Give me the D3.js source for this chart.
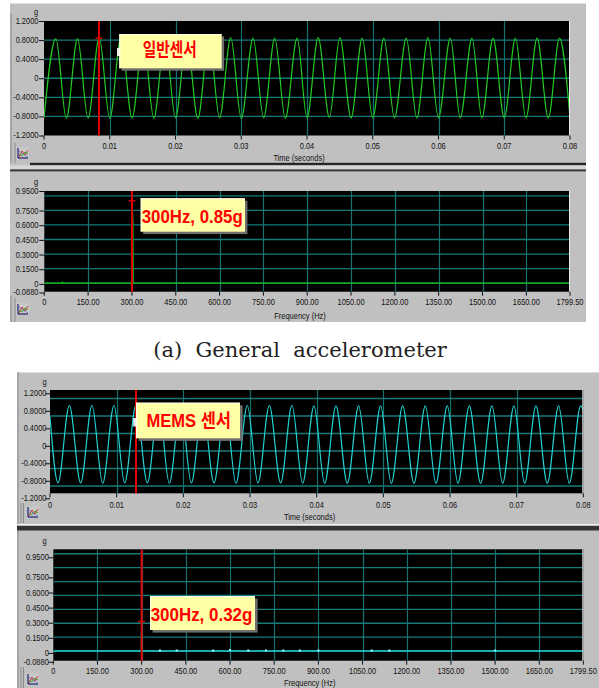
<!DOCTYPE html>
<html><head><meta charset="utf-8">
<script src="https://cdn.jsdelivr.net/npm/d3@7"></script>
<style>body{margin:0;background:#fff;} svg{display:block;}</style>
</head><body>
<svg id="c" width="599" height="688"></svg>
<script>
// ---------- DATA ----------
const timeTicks = [0, 0.01, 0.02, 0.03, 0.04, 0.05, 0.06, 0.07, 0.08];
const timeTickLabels = ["0", "0.01", "0.02", "0.03", "0.04", "0.05", "0.06", "0.07", "0.08"];
const gTicks = [1.2, 0.8, 0.4, 0, -0.4, -0.8, -1.2];
const gTickLabels = ["1.2000", "0.8000", "0.4000", "0", "-0.4000", "-0.8000", "-1.2000"];
const freqTicks = [0, 150, 300, 450, 600, 750, 900, 1050, 1200, 1350, 1500, 1650, 1799.5];
const freqTickLabels = ["0", "150.00", "300.00", "450.00", "600.00", "750.00", "900.00", "1050.00", "1200.00", "1350.00", "1500.00", "1650.00", "1799.50"];
const specTicks = [0.95, 0.75, 0.6, 0.45, 0.3, 0.15, 0, -0.088];
const specTickLabels = ["0.9500", "0.7500", "0.6000", "0.4500", "0.3000", "0.1500", "0", "-0.0880"];
const specGrid = [0, 0.15, 0.3, 0.45, 0.6, 0.75, 0.9, 1.05];

// General sensor – time waveform (extremes), seconds / g
const generalTime = [0, 0.0018, 0.0034, 0.0051, 0.0067, 0.0084, 0.0100, 0.0117, 0.0134, 0.0151, 0.0167, 0.0184, 0.0200, 0.0217, 0.0234, 0.0251, 0.0267, 0.0284, 0.0300, 0.0318, 0.0334, 0.0351, 0.0367, 0.0385, 0.0400, 0.0417, 0.0434, 0.0450, 0.0467, 0.0484, 0.0500, 0.0517, 0.0533, 0.0551, 0.0567, 0.0584, 0.0600, 0.0618, 0.0633, 0.0651, 0.0666, 0.0683, 0.0700, 0.0717, 0.0733, 0.0750, 0.0767, 0.0784, 0.0800];
const generalG = [-0.83, 0.83, -0.84, 0.83, -0.84, 0.85, -0.84, 0.84, -0.83, 0.84, -0.84, 0.84, -0.83, 0.84, -0.84, 0.84, -0.83, 0.85, -0.84, 0.84, -0.83, 0.84, -0.84, 0.84, -0.83, 0.85, -0.82, 0.85, -0.83, 0.84, -0.83, 0.84, -0.83, 0.84, -0.83, 0.85, -0.83, 0.84, -0.83, 0.84, -0.83, 0.84, -0.83, 0.84, -0.83, 0.84, -0.83, 0.84, -0.82];

// MEMS sensor – time waveform (extremes)
const memsTime = [0, 0.0012, 0.0029, 0.0046, 0.0063, 0.0079, 0.0096, 0.0112, 0.0129, 0.0146, 0.0163, 0.0179, 0.0196, 0.0212, 0.0229, 0.0246, 0.0263, 0.0279, 0.0296, 0.0312, 0.0329, 0.0346, 0.0363, 0.0379, 0.0396, 0.0412, 0.0429, 0.0446, 0.0463, 0.0479, 0.0496, 0.0512, 0.0529, 0.0546, 0.0563, 0.0579, 0.0596, 0.0612, 0.0629, 0.0646, 0.0663, 0.0679, 0.0696, 0.0712, 0.0729, 0.0746, 0.0763, 0.0779, 0.0796, 0.0800];
const memsG = [0.78, -0.73, 1.04, -0.73, 1.04, -0.74, 1.04, -0.73, 1.05, -0.73, 1.04, -0.74, 1.04, -0.73, 1.04, -0.73, 1.04, -0.74, 1.04, -0.73, 1.04, -0.73, 1.04, -0.74, 1.03, -0.74, 1.03, -0.74, 1.03, -0.74, 1.03, -0.74, 1.03, -0.74, 1.03, -0.74, 1.03, -0.74, 1.03, -0.74, 1.03, -0.74, 1.03, -0.74, 1.03, -0.74, 1.03, -0.74, 1.03, 0.93];

// Spectra
const generalFreq = [0, 60, 61.5, 63, 299, 300, 303, 304, 1799.5];
const generalSpec = [0, 0, 0.008, 0, 0, 0.85, 0.64, 0, 0];
const memsFreq = [0, 299, 300, 301, 1799.5];
const memsSpec = [0, 0, 0.32, 0, 0];
const memsMinorFreq = [362, 419, 543, 600, 662, 722, 781, 837, 900, 1081, 1141, 1500];
const memsMinorSpec = [0.006, 0.006, 0.006, 0.01, 0.006, 0.006, 0.006, 0.006, 0.006, 0.006, 0.006, 0.006];

// Cursor annotations
const cursorLabels = ["일반센서", "300Hz, 0.85g", "MEMS 센서", "300Hz, 0.32g"];
const cursorX = [0.00836, 300, 0.0129, 300];
const cursorY = [0.84, 0.85, null, 0.32];
const captionA = "(a)  General  accelerometer";

// ---------- DRAWING ----------
const svg = d3.select('#c');
const defs = svg.append('defs');
const SANS = "'Liberation Sans', Arial, sans-serif";

function ctext(parent, x, y, str, o = {}) {
  return parent.append('text')
    .attr('transform', `translate(${x},${y}) scale(${o.sx ?? 0.88},1)`)
    .attr('text-anchor', o.anchor || 'middle')
    .attr('dy', '0.35em')
    .attr('font-family', o.font || SANS)
    .attr('font-size', o.size || 8.5)
    .attr('font-weight', o.weight || 'normal')
    .attr('fill', o.fill || '#111')
    .text(str);
}
function rect(parent, x, y, w, h, fill) {
  return parent.append('rect').attr('x', x).attr('y', y).attr('width', w).attr('height', h).attr('fill', fill);
}
function vline(parent, x, y1, y2, stroke, w = 1) {
  parent.append('line').attr('x1', x).attr('x2', x).attr('y1', y1).attr('y2', y2).attr('stroke', stroke).attr('stroke-width', w);
}
function hline(parent, y, x1, x2, stroke, w = 1) {
  parent.append('line').attr('x1', x1).attr('x2', x2).attr('y1', y).attr('y2', y).attr('stroke', stroke).attr('stroke-width', w);
}
function icon(x, y) {
  const g = svg.append('g');
  rect(g, x - 1, y - 1, 13, 12, '#c8c8c8');
  g.append('path').attr('d', `M${x + 1},${y} V${y + 10} H${x + 11}`).attr('stroke', '#000060').attr('fill', 'none').attr('stroke-width', 1);
  g.append('path').attr('d', `M${x + 2},${y + 9} L${x + 5},${y + 3} L${x + 8},${y + 7} L${x + 11},${y + 2}`).attr('stroke', '#e02020').attr('fill', 'none').attr('stroke-width', 0.9);
  g.append('path').attr('d', `M${x + 2},${y + 6} L${x + 5},${y + 8} L${x + 8},${y + 4} L${x + 11},${y + 6}`).attr('stroke', '#20a020').attr('fill', 'none').attr('stroke-width', 0.9);
  g.append('path').attr('d', `M${x + 2},${y + 3} L${x + 6},${y + 6} L${x + 11},${y + 9}`).attr('stroke', '#2040e0').attr('fill', 'none').attr('stroke-width', 0.8).attr('stroke-dasharray', '1,1');
}

// ----- frames -----
rect(svg, 10, 3, 576, 319, '#c0c0c0');
hline(svg, 3.5, 10, 586, '#dedede');
vline(svg, 11, 13, 163, '#8a8a8a');
vline(svg, 15, 143, 163, '#8a8a8a');
rect(svg, 30, 162.8, 556, 2.6, '#262626');
rect(svg, 10, 165.4, 576, 4, '#d6d6d6');
rect(svg, 10, 169.4, 576, 2, '#3a3a3a');
vline(svg, 11, 296, 322, '#8a8a8a');
vline(svg, 15, 298, 322, '#8a8a8a');
rect(svg, 17, 372, 582, 316, '#c0c0c0');
hline(svg, 372.5, 17, 599, '#dcdcdc');
vline(svg, 18, 372, 688, '#8a8a8a');
vline(svg, 21, 503, 523, '#8a8a8a');
vline(svg, 23.5, 503, 523, '#8a8a8a');
hline(svg, 524.5, 17, 599, '#f2f2f2');
rect(svg, 17, 526, 582, 4.5, '#333');
vline(svg, 21, 667, 688, '#8a8a8a');
vline(svg, 23.5, 667, 688, '#8a8a8a');

// ----- panels -----
const panels = [
  { id: 1, x0: 44, x1: 570, y0: 21, y1: 135.5, xDomain: [0, 0.08], yDomain: [-1.2, 1.2], yRange: [135.5, 21], yLabRange: [135.5, 21],
    xTicks: timeTicks, xLabels: timeTickLabels, xGrid: timeTicks.slice(1, -1), yTicks: gTicks, yLabels: gTickLabels, yGrid: [0.8, 0.4, 0, -0.4, -0.8],
    xLabY: 146, title: 'Time (seconds)', titleX: 299, titleY: 158, gX: 36, gY: 12, labRight: 38.5,
    series: { x: generalTime, y: generalG, color: '#22cc22', curve: d3.curveMonotoneX, w: 1.2 } },
  { id: 2, x0: 44.3, x1: 570, y0: 191, y1: 291.7, xDomain: [0, 1799.5], yDomain: [-0.088, 0.95], yRange: [291.7, 191], yLabRange: [292.5, 191],
    xTicks: freqTicks, xLabels: freqTickLabels, xGrid: freqTicks.slice(1, -1), yTicks: specTicks, yLabels: specTickLabels, yGrid: specGrid,
    xLabY: 301.7, title: 'Frequency (Hz)', titleX: 300, titleY: 315.7, gX: 36, gY: 182, labRight: 38.5,
    series: { x: generalFreq, y: generalSpec, color: '#10c010', curve: d3.curveLinear, w: 1.4 } },
  { id: 3, x0: 50, x1: 583.3, y0: 390, y1: 493.3, xDomain: [0, 0.08], yDomain: [-1.2, 1.2], yRange: [503.5, 398.5], yLabRange: [498.3, 393.3],
    xTicks: timeTicks, xLabels: timeTickLabels, xGrid: timeTicks.slice(1, -1), yTicks: gTicks, yLabels: gTickLabels, yGrid: [1.2, 0.8, 0.4, 0, -0.4, -0.8],
    xLabY: 505, title: 'Time (seconds)', titleX: 309.5, titleY: 516.7, gX: 44.5, gY: 382.5, labRight: 46.5, cutLabel: '1.6000',
    series: { x: memsTime, y: memsG, color: '#22d4d4', curve: d3.curveMonotoneX, w: 1.2 } },
  { id: 4, x0: 53.3, x1: 583.3, y0: 549.3, y1: 660.7, xDomain: [0, 1799.5], yDomain: [-0.088, 0.95], yRange: [659.2, 563.0], yLabRange: [661.8, 557.3],
    xTicks: freqTicks, xLabels: freqTickLabels, xGrid: freqTicks.slice(1, -1), yTicks: specTicks, yLabels: specTickLabels, yGrid: specGrid,
    xLabY: 670.7, title: 'Frequency (Hz)', titleX: 309.7, titleY: 683, gX: 44.5, gY: 541.5, labRight: 48.8, cutLabel: '1.1000',
    series: { x: memsFreq, y: memsSpec, color: '#20cccc', curve: d3.curveLinear, w: 1.4 },
    minor: { x: memsMinorFreq, y: memsMinorSpec } }
];

const boxes = [
  { x: 119.3, y: 34, w: 102.4, h: 34.3, tx: 169.7, ty: 50, tl: 54, font: "'Noto Sans CJK KR', sans-serif", size: 18, shadow: 2.4, chip: [117, 48, 3, 8] },
  { x: 140.7, y: 198.3, w: 104.3, h: 33.4, tx: 192.2, ty: 216.2, tl: 101, font: SANS, size: 18, shadow: 2.4 },
  { x: 136, y: 402.7, w: 104, h: 35.6, tx: 188.8, ty: 421, tl: 84.5, font: "'Liberation Sans', 'Noto Sans CJK KR', sans-serif", size: 18, shadow: 2.6, chip: [133.2, 418, 3, 8.5] },
  { x: 150, y: 596, w: 105, h: 34, tx: 201.5, ty: 614.5, tl: 101.6, font: SANS, size: 18, shadow: 2.6 }
];

panels.forEach((p, i) => {
  const g = svg.append('g');
  const x = d3.scaleLinear().domain(p.xDomain).range([p.x0, p.x1]);
  const y = d3.scaleLinear().domain(p.yDomain).range(p.yRange);
  const yl = d3.scaleLinear().domain(p.yDomain).range(p.yLabRange);

  rect(g, p.x0, p.y0, p.x1 - p.x0, p.y1 - p.y0, '#000');
  const cid = 'clip' + p.id;
  defs.append('clipPath').attr('id', cid).append('rect')
    .attr('x', p.x0).attr('y', p.y0).attr('width', p.x1 - p.x0).attr('height', p.y1 - p.y0);
  const pg = g.append('g').attr('clip-path', `url(#${cid})`);

  pg.selectAll('line.vg').data(p.xGrid).join('line').attr('class', 'vg')
    .attr('x1', d => Math.round(x(d)) + 0.5).attr('x2', d => Math.round(x(d)) + 0.5)
    .attr('y1', p.y0).attr('y2', p.y1).attr('stroke', '#127272').attr('stroke-width', 1.2);
  pg.selectAll('line.hg').data(p.yGrid).join('line').attr('class', 'hg')
    .attr('y1', d => y(d)).attr('y2', d => y(d))
    .attr('x1', p.x0).attr('x2', p.x1).attr('stroke', '#167a7a').attr('stroke-width', 1.3);

  const s = p.series;
  const pts = s.x.map((v, k) => [v, s.y[k]]);
  pg.append('path').datum(pts)
    .attr('d', d3.line().x(d => x(d[0])).y(d => y(d[1])).curve(s.curve))
    .attr('fill', 'none').attr('stroke', s.color).attr('stroke-width', s.w);
  if (p.minor) {
    pg.selectAll('rect.mn').data(p.minor.x.map((v, k) => [v, p.minor.y[k]])).join('rect').attr('class', 'mn')
      .attr('x', d => x(d[0]) - 1).attr('y', d => y(d[1]) - 1).attr('width', 2).attr('height', 2).attr('fill', '#9ffcfc');
  }

  vline(g, p.x1 - 0.5, p.y0, p.y1, '#e8e8e8', 1);

  g.selectAll('line.xt').data(p.xTicks).join('line').attr('class', 'xt')
    .attr('x1', d => x(d)).attr('x2', d => x(d)).attr('y1', p.y1).attr('y2', p.y1 + 4)
    .attr('stroke', '#111').attr('stroke-width', 1);
  p.xTicks.forEach((v, k) => ctext(g, x(v), p.xLabY, p.xLabels[k]));
  g.selectAll('line.yt').data(p.yTicks).join('line').attr('class', 'yt')
    .attr('x1', p.x0 - 5).attr('x2', p.x0).attr('y1', d => yl(d) + 0.5).attr('y2', d => yl(d) + 0.5)
    .attr('stroke', '#111').attr('stroke-width', 1);
  p.yTicks.forEach((v, k) => ctext(g, p.labRight, yl(v), p.yLabels[k], { anchor: 'end' }));

  ctext(g, p.titleX, p.titleY, p.title);
  ctext(g, p.gX, p.gY, 'g', { anchor: 'middle' });
  if (p.cutLabel) {
    const cc = 'cut' + p.id;
    defs.append('clipPath').attr('id', cc).append('rect').attr('x', 10).attr('y', p.gY + 2.5).attr('width', 40).attr('height', 2.5);
    ctext(g.append('g').attr('clip-path', `url(#${cc})`), 40.5, p.gY - 0.5, p.cutLabel, { anchor: 'end', size: 7 });
  }

  const cx = x(cursorX[i]);
  vline(g, cx, p.y0, p.y1, '#e00000', 2);
  if (cursorY[i] !== null) hline(g, y(cursorY[i]), cx - 3.5, cx + 3.5, '#e00000', 1.3);

  const b = boxes[i];
  if (b.chip) rect(g, b.chip[0], b.chip[1], b.chip[2], b.chip[3], '#eeeeee');
  rect(g, b.x + b.shadow, b.y + b.shadow, b.w, b.h, '#6e6e6e');
  rect(g, b.x, b.y, b.w, b.h, '#ffffa6');
  hline(g, b.y + 0.5, b.x, b.x + b.w, '#fffff0');
  vline(g, b.x + 0.5, b.y, b.y + b.h, '#fffff0');
  g.append('text').attr('x', b.tx).attr('y', b.ty).attr('dy', '0.35em')
    .attr('text-anchor', 'middle').attr('font-family', b.font).attr('font-size', b.size)
    .attr('font-weight', 'bold').attr('fill', '#ff0000')
    .attr('textLength', b.tl).attr('lengthAdjust', 'spacingAndGlyphs')
    .text(cursorLabels[i]);
});

icon(17, 148);
icon(17, 304);
icon(27, 507);
icon(27, 674);

svg.append('text').attr('x', 300).attr('y', 350).attr('dy', '0.35em')
  .attr('text-anchor', 'middle').attr('font-family', "'DejaVu Serif', serif")
  .attr('font-size', 21).attr('fill', '#222').style('white-space', 'pre')
  .text(captionA);
</script>
</body></html>
